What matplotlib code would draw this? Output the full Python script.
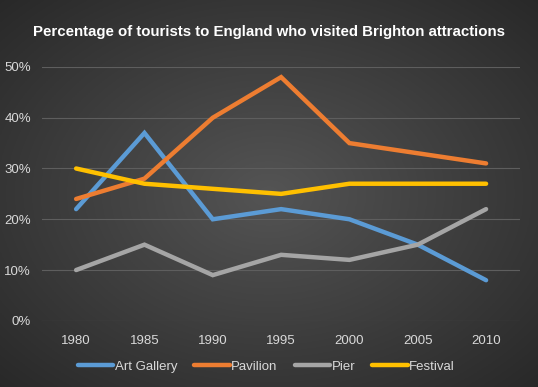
import numpy as np
import matplotlib
matplotlib.use("Agg")
import matplotlib.pyplot as plt
from matplotlib.ticker import PercentFormatter

plt.rcParams["font.family"] = ["Liberation Sans", "DejaVu Sans"]

years = ["1980", "1985", "1990", "1995", "2000", "2005", "2010"]
art_gallery = [22, 37, 20, 22, 20, 15, 8]
pavilion = [24, 28, 40, 48, 35, 33, 31]
pier = [10, 15, 9, 13, 12, 15, 22]
festival = [30, 27, 26, 25, 27, 27, 27]

series = [("Art Gallery", art_gallery, "#5B9BD5"),
          ("Pavilion", pavilion, "#ED7D31"),
          ("Pier", pier, "#A5A5A5"),
          ("Festival", festival, "#FFC000")]

fig = plt.figure(figsize=(5.38, 3.87), dpi=100)

# radial gradient background
bg = fig.add_axes([0, 0, 1, 1])
gx, gy = np.meshgrid(np.linspace(-1, 1, 300), np.linspace(-1, 1, 220))
r = np.clip(np.sqrt(gx**2 + gy**2) / 1.41, 0, 1)
shade = 0.33 - 0.17 * r
bg.imshow(np.dstack([shade, shade, shade]), aspect="auto", extent=[0, 1, 0, 1])
bg.axis("off")

ax = fig.add_axes([0.078, 0.171, 0.889, 0.656])
ax.patch.set_alpha(0)
x = np.arange(len(years))
for name, vals, col in series:
    ax.plot(x, np.array(vals) / 100, color=col, lw=3.2, label=name,
            solid_capstyle="round", solid_joinstyle="miter")

ax.set_xlim(-0.5, len(years) - 0.5)
ax.set_ylim(0, 0.5)
ax.set_yticks(np.arange(0, 0.51, 0.1))
ax.yaxis.set_major_formatter(PercentFormatter(1.0, decimals=0))
ax.set_xticks(x)
ax.set_xticklabels(years)
ax.grid(axis="y", color="#5e5e5e", lw=0.8)
ax.set_axisbelow(True)
for s in ax.spines.values():
    s.set_visible(False)
ax.tick_params(length=0, colors="#d9d9d9", labelsize=9.5)
ax.tick_params(axis="x", pad=10)
ax.tick_params(axis="y", pad=8)

fig.text(0.5, 0.918, "Percentage of tourists to England who visited Brighton attractions",
         ha="center", va="center", color="white", fontsize=10.8, fontweight="bold")

leg = fig.legend(loc="center", bbox_to_anchor=(0.495, 0.052), ncol=4, frameon=False,
                 handlelength=2.7, handletextpad=0.1, columnspacing=1.3,
                 fontsize=9.5, labelcolor="#d9d9d9")
for h in leg.get_lines():
    h.set_linewidth(3.2)
    h.set_solid_capstyle("round")

fig.savefig("out.png", dpi=100)
